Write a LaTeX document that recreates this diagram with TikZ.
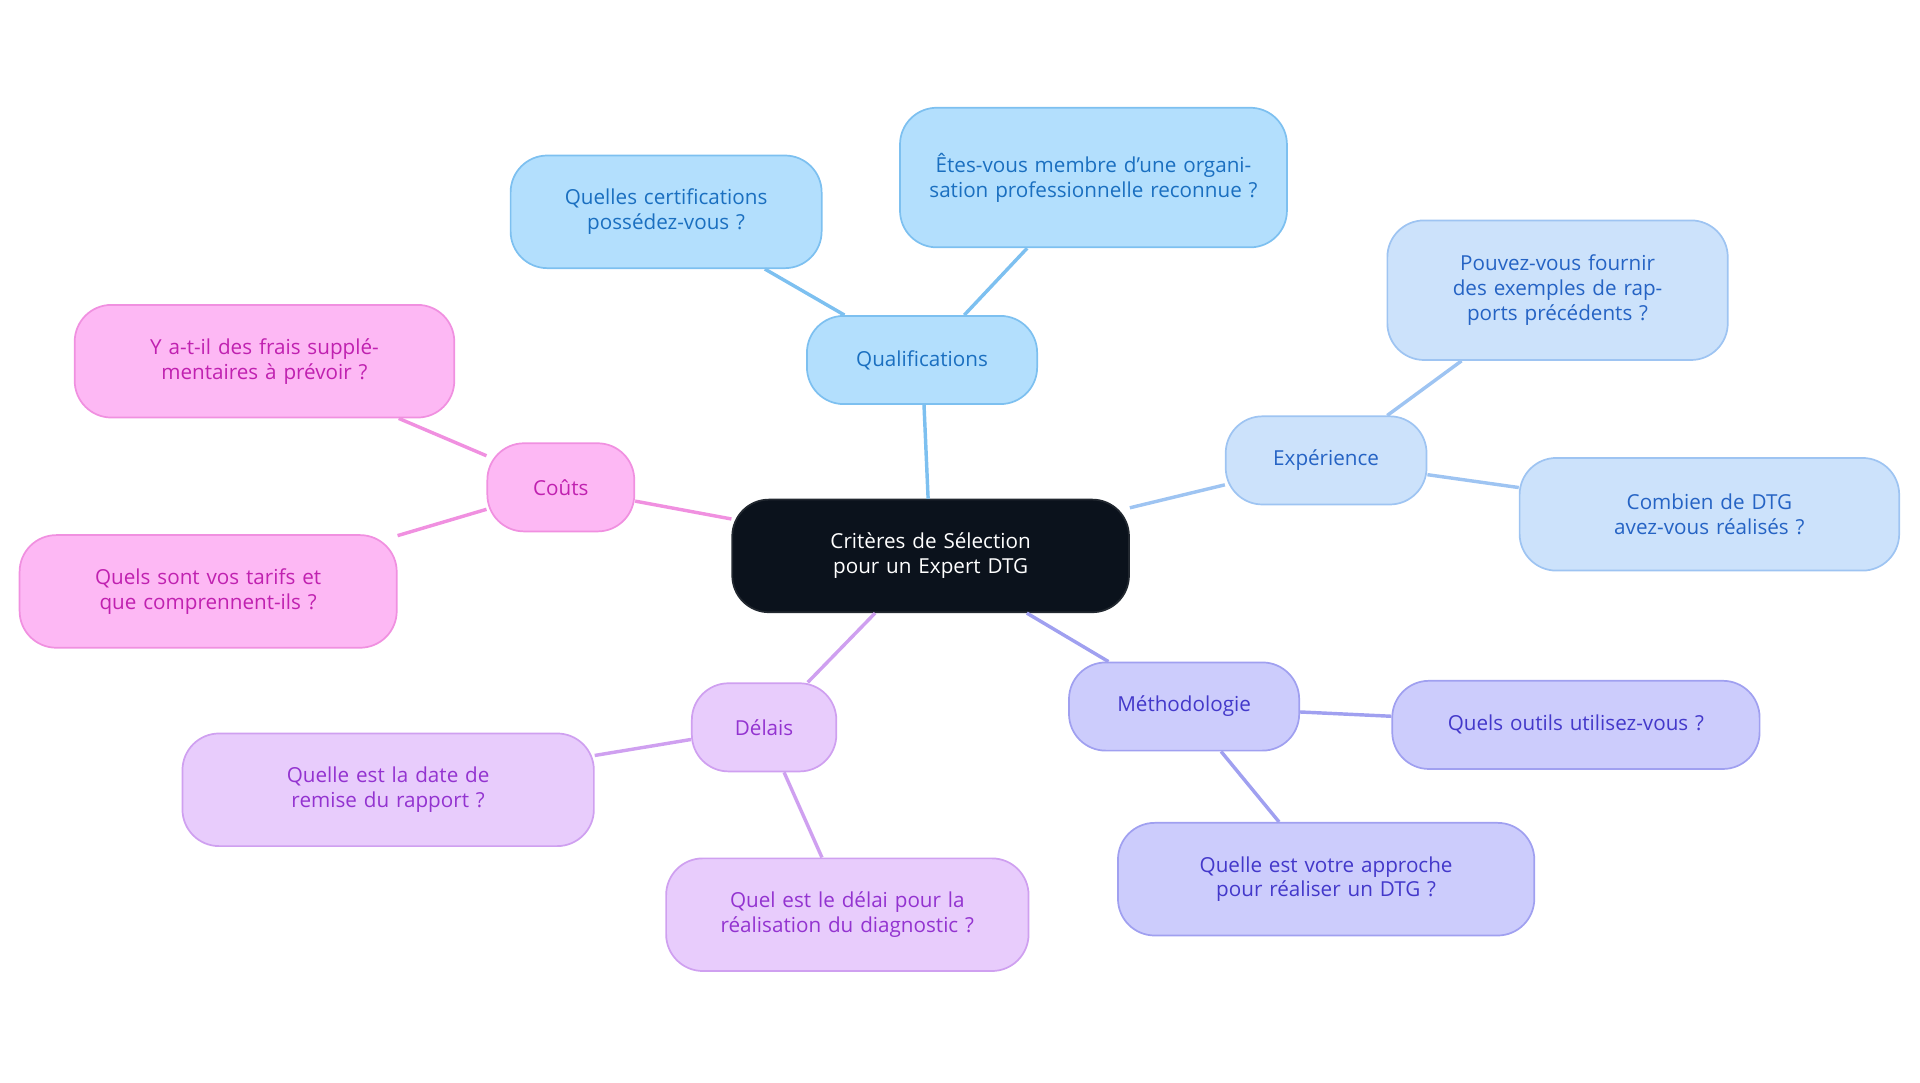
\documentclass[tikz,border=0pt]{standalone}
\usepackage{fontspec}
\setmainfont{Open Sans}
\begin{document}
\begin{tikzpicture}[x=0.02cm,y=-0.02cm,
  b/.style n args={3}{draw=#1!70!black!60, fill=#1, text=#2, rounded corners=0.6cm, align=center, font=\fontsize{9.6}{11.5}\selectfont, inner sep=0pt, line width=0.8pt, text width=#3*0.02cm-1.2cm},
  sz/.style 2 args={minimum width=#1*0.02cm, minimum height=#2*0.02cm}]
\definecolor{q}{HTML}{B3DFFD}\definecolor{qs}{HTML}{7DC0F0}\definecolor{qt}{HTML}{1A6FC0}
\definecolor{e}{HTML}{CCE2FB}\definecolor{es}{HTML}{9EC4F2}\definecolor{et}{HTML}{2563C4}
\definecolor{m}{HTML}{CCCCFC}\definecolor{ms}{HTML}{A0A0F0}\definecolor{mt}{HTML}{4338CA}
\definecolor{d}{HTML}{E8CCFC}\definecolor{ds}{HTML}{CFA0F0}\definecolor{dt}{HTML}{9333D0}
\definecolor{c}{HTML}{FDB8F4}\definecolor{cs}{HTML}{F090E0}\definecolor{ct}{HTML}{C021B0}
\definecolor{k}{HTML}{0B121C}
\tikzset{Q/.style={draw=qs,fill=q,text=qt},E/.style={draw=es,fill=e,text=et},M/.style={draw=ms,fill=m,text=mt},D/.style={draw=ds,fill=d,text=dt},C/.style={draw=cs,fill=c,text=ct},
 n/.style 2 args={rounded corners=0.6cm, align=center, font=\fontsize{9.6}{11.5}\selectfont, inner sep=0pt, line width=0.8pt, minimum width=#1*0.02cm, minimum height=#2*0.02cm, text width=#1*0.02cm-0.8cm},
 l/.style={line width=1.6pt}}
\useasboundingbox (0,0) rectangle (1568,884);
\node[n={324}{92},fill=k,draw=k!80!gray,text=white] (ctr) at (760,454) {Critères de Sélection pour un Expert DTG};
\node[n={188}{72},Q] (qa) at (753,294) {Qualifications};
\node[n={254}{92},Q] (q1) at (544,173) {Quelles certifications possédez-vous ?};
\node[n={316}{114},Q] (q2) at (893,145) {Êtes-vous membre d'une organisation professionnelle reconnue ?};
\node[n={164}{72},E] (ex) at (1083,376) {Expérience};
\node[n={278}{114},E] (e1) at (1272,237) {Pouvez-vous fournir des exemples de rapports précédents ?};
\node[n={310}{92},E] (e2) at (1396,420) {Combien de DTG avez-vous réalisés ?};
\node[n={188}{72},M] (me) at (967,577) {Méthodologie};
\node[n={300}{72},M] (m1) at (1287,592) {Quels outils utilisez-vous ?};
\node[n={340}{92},M] (m2) at (1083,718) {Quelle est votre approche pour réaliser un DTG ?};
\node[n={118}{72},D] (de) at (624,594) {Délais};
\node[n={336}{92},D] (d1) at (317,645) {Quelle est la date de remise du rapport ?};
\node[n={296}{92},D] (d2) at (692,747) {Quel est le délai pour la réalisation du diagnostic ?};
\node[n={120}{72},C] (co) at (458,398) {Coûts};
\node[n={310}{92},C] (c1) at (216,295) {Y a-t-il des frais supplémentaires à prévoir ?};
\node[n={308}{92},C] (c2) at (170,483) {Quels sont vos tarifs et que comprennent-ils ?};
\begin{scope}[on background layer/.try]
\end{scope}
\draw[l,qs] (ctr) -- (qa); \draw[l,qs] (qa) -- (q1); \draw[l,qs] (qa) -- (q2);
\draw[l,es] (ctr) -- (ex); \draw[l,es] (ex) -- (e1); \draw[l,es] (ex) -- (e2);
\draw[l,ms] (ctr) -- (me); \draw[l,ms] (me) -- (m1); \draw[l,ms] (me) -- (m2);
\draw[l,ds] (ctr) -- (de); \draw[l,ds] (de) -- (d1); \draw[l,ds] (de) -- (d2);
\draw[l,cs] (ctr) -- (co); \draw[l,cs] (co) -- (c1); \draw[l,cs] (co) -- (c2);
\end{tikzpicture}
\end{document}
